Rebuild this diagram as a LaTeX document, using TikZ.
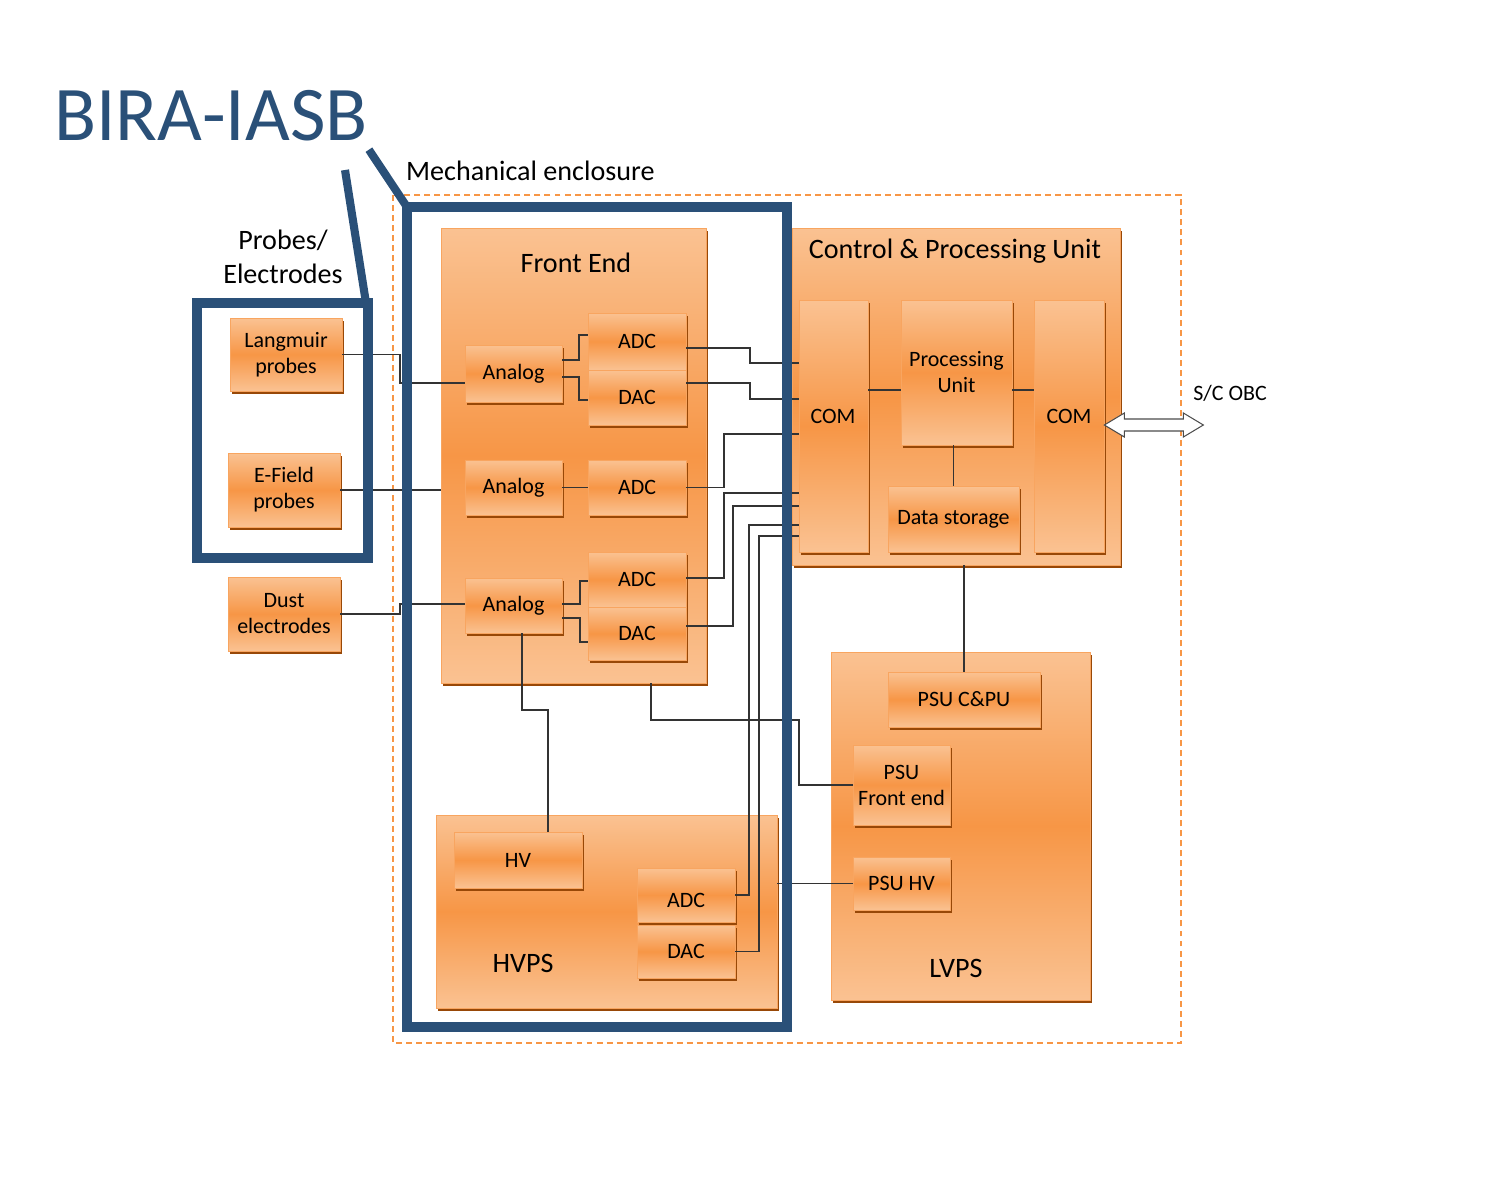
\documentclass[tikz,border=0pt]{standalone}
\usepackage{fontspec}
\setmainfont{Carlito}
\usetikzlibrary{shadows}
\definecolor{birablue}{HTML}{2A5078}
\definecolor{enclorange}{HTML}{F79646}
\definecolor{boxlight}{HTML}{FAC292}
\definecolor{boxmid}{HTML}{F79646}
\definecolor{boxedge}{HTML}{F8A560}
\definecolor{boxshade}{HTML}{984807}
\tikzstyle{blok}=[draw=boxedge, top color=boxlight, bottom color=boxlight,
  middle color=boxmid, align=center, inner sep=0pt,
  font=\fontsize{12.5}{14.8}\selectfont,
  drop shadow={shadow xshift=1.2pt, shadow yshift=-1.8pt, fill=boxshade, opacity=1}]
\tikzstyle{titel}=[font=\fontsize{16}{19.3}\selectfont, align=center]
\tikzstyle{lbl}=[font=\fontsize{12.5}{14.8}\selectfont, align=center]
\tikzstyle{wire}=[draw, color=black!80, line width=0.6pt]
\tikzstyle{bframe}=[draw=birablue, line width=5.7pt]
\tikzstyle{bline}=[draw=birablue, line width=4.6pt]
\tikzstyle{encldash}=[draw=enclorange, line width=0.9pt, dash pattern=on 3.4pt off 2.3pt]
% box from its corners, in pixels of the reference
\newcommand{\blok}[6]{\node[blok, minimum width={(#4-#2)*0.02cm},
  minimum height={(#5-#3)*0.02cm}] (#1) at ({(#2+#4)/2},{(#3+#5)/2}) {#6};}

\begin{document}
\begin{tikzpicture}[x=0.02cm, y=-0.02cm]
  \useasboundingbox (0,0) rectangle (1500,1200);

  % Mechanical enclosure
  \path[encldash] (393,195) rectangle (1181,1043);
  \node[titel, anchor=west] (mech) at (400,171) {Mechanical enclosure};

  % Containers
  \blok{fe}{441}{228}{706}{683}{}
  \blok{hvps}{436}{815}{777}{1008}{}
  \blok{cpu}{792}{228}{1120}{565}{}
  \blok{lvps}{831}{652}{1090}{1000}{}
  \node[titel] (feT) at (576,263) {Front End};
  \node[titel] (hvpsT) at (523,963) {HVPS};
  \node[titel] (cpuT) at (955,251) {Control \& Processing Unit};
  \node[titel] (lvpsT) at (956,968) {LVPS};

  % Probes
  \node[titel] (probT) at (283,257) {Probes/\\Electrodes};
  \blok{lang}{230}{318}{342}{391}{Langmuir\\probes}
  \blok{efield}{228}{453}{340}{527}{E-Field\\probes}
  \blok{dust}{228}{577}{340}{651}{Dust\\electrodes}

  % Front end
  \blok{an1}{465}{345}{562}{402}{Analog}
  \blok{adc1}{588}{313}{686}{370}{ADC}
  \blok{dac1}{588}{370}{686}{425}{DAC}
  \blok{an2}{465}{460}{562}{515}{Analog}
  \blok{adc2}{588}{460}{686}{515}{ADC}
  \blok{an3}{465}{578}{562}{633}{Analog}
  \blok{adc3}{588}{552}{686}{607}{ADC}
  \blok{dac3}{588}{607}{686}{660}{DAC}

  % HVPS
  \blok{hv}{454}{832}{582}{888}{HV}
  \blok{hadc}{637}{868}{735}{922}{}
  \node[lbl] (hadcT) at (686,900) {ADC};
  \blok{hdac}{637}{925}{735}{978}{DAC}

  % Control & Processing Unit
  \blok{comL}{799}{300}{868}{552}{}
  \node[lbl] (comLT) at (833,416) {COM};
  \blok{pu}{901}{300}{1012}{445}{Processing\\Unit}
  \blok{ds}{888}{486}{1019}{552}{Data storage}
  \blok{comR}{1034}{300}{1104}{552}{}
  \node[lbl] (comRT) at (1069,416) {COM};

  % LVPS
  \blok{psucpu}{888}{672}{1040}{727}{PSU C\&PU}
  \blok{psufe}{853}{745}{950}{825}{PSU\\Front end}
  \blok{psuhv}{853}{857}{950}{910}{PSU HV}

  % Wires
  \path[wire] (lang.east) -| (400,383) -- (an1.west |- 0,383);
  \path[wire] (efield.east) -- (fe.west |- efield.east);
  \path[wire] (dust.east) -| (400,604) -- (an3.west |- 0,604);

  \path[wire] (an1.east |- 0,360) -| (579,335) -- (adc1.west |- 0,335);
  \path[wire] (an1.east |- 0,377) -| (579,400) -- (dac1.west |- 0,400);
  \path[wire] (an2.east) -- (adc2.west);
  \path[wire] (an3.east |- 0,604) -| (580,581) -- (adc3.west |- 0,581);
  \path[wire] (an3.east |- 0,618) -| (580,642) -- (dac3.west |- 0,642);

  \path[wire] (adc1.east |- 0,348) -| (750,363) -- (comL.west |- 0,363);
  \path[wire] (dac1.east |- 0,383) -| (750,399) -- (comL.west |- 0,399);
  \path[wire] (adc2.east) -| (724,434) -- (comL.west |- 0,434);
  \path[wire] (adc3.east |- 0,578) -| (724,493) -- (comL.west |- 0,493);
  \path[wire] (dac3.east |- 0,626) -| (733,506) -- (comL.west |- 0,506);
  \path[wire] (hadc.east) -| (749,525) -- (comL.west |- 0,525);
  \path[wire] (hdac.east) -| (759,536) -- (comL.west |- 0,536);

  \path[wire] (an3.south -| 522,0) |- (548,710) -- (hv.north -| 548,0);
  \path[wire] (fe.south -| 651,0) |- (799,720) |- (psufe.west);
  \path[wire] (hvps.east |- psuhv.west) -- (psuhv.west);
  \path[wire] (cpu.south -| psucpu.north) -- (psucpu.north);

  \path[wire] (comL.east |- 0,390) -- (pu.west |- 0,390);
  \path[wire] (pu.east |- 0,390) -- (comR.west |- 0,390);
  \path[wire] (pu.south -| ds.north) -- (ds.north);

  % S/C OBC link
  \draw[black!70, fill=white, line width=0.6pt] (comR.east |- 0,425) -- ++(20,-12)
    -- ++(0,6) -- ++(59,0) -- ++(0,-6) -- ++(20,12) -- ++(-20,12)
    -- ++(0,-6) -- ++(-59,0) -- ++(0,6) -- cycle;
  \node[lbl] (obc) at (1230,393) {S/C OBC};

  % BIRA-IASB frames
  \node[font=\fontsize{44}{50}\selectfont, text=birablue, inner sep=0pt]
    (bira) at (211,116) {BIRA-IASB};
  \path[bframe] (407,207) coordinate (fetl) rectangle (787,1027);
  \path[bframe] (197,303) rectangle (368,558) coordinate (prbr);
  \coordinate (prtr) at (366,303);
  \coordinate (birafoot) at (345,170);
  \path[bline] (bira.south east) ++(1,8) -- (fetl);
  \path[bline] (birafoot) -- (prtr);
\end{tikzpicture}
\end{document}
